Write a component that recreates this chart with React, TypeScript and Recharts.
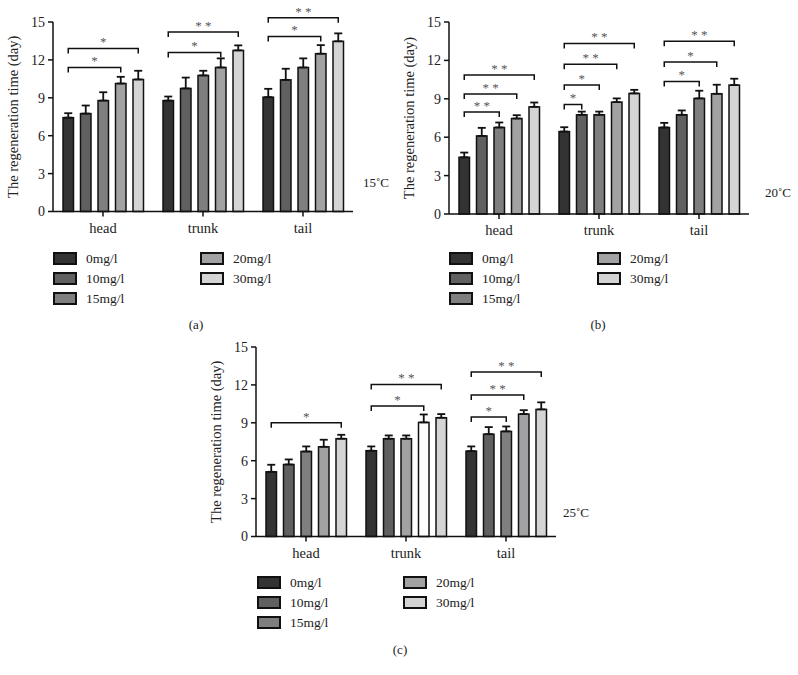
import React from "react";
import { BarChart, Bar, XAxis, YAxis, ErrorBar, Cell } from "recharts";

const categories = ["head", "trunk", "tail"];
const doses = ["0mg/l", "10mg/l", "15mg/l", "20mg/l", "30mg/l"];
const doseColors = ["#333333", "#606060", "#7f7f7f", "#a2a2a4", "#d4d4d4"];
const yTicks = [0, 3, 6, 9, 12, 15];

// mean regeneration time, rows = head / trunk / tail, columns = dose
const means15 = [
  [7.43, 7.75, 8.78, 10.13, 10.45],
  [8.78, 9.74, 10.77, 11.4, 12.75],
  [9.05, 10.42, 11.4, 12.49, 13.47],
];
const err15 = [
  [0.35, 0.64, 0.66, 0.53, 0.69],
  [0.32, 0.86, 0.37, 0.72, 0.4],
  [0.66, 0.88, 0.72, 0.68, 0.63],
];
const means20 = [
  [4.43, 6.1, 6.76, 7.46, 8.37],
  [6.44, 7.75, 7.75, 8.74, 9.42],
  [6.76, 7.75, 9.03, 9.39, 10.07],
];
const err20 = [
  [0.37, 0.63, 0.39, 0.26, 0.34],
  [0.34, 0.25, 0.25, 0.29, 0.28],
  [0.36, 0.34, 0.6, 0.71, 0.5],
];
const means25 = [
  [5.12, 5.7, 6.73, 7.1, 7.74],
  [6.79, 7.74, 7.74, 9.03, 9.4],
  [6.76, 8.1, 8.32, 9.69, 10.06],
];
const err25 = [
  [0.56, 0.4, 0.4, 0.56, 0.31],
  [0.34, 0.26, 0.26, 0.63, 0.29],
  [0.37, 0.56, 0.39, 0.31, 0.56],
];

// [category, dose compared with 0mg/l, bracket height (day), mark]
type Bracket = [number, number, number, string];
const brackets15: Bracket[] = [
  [0, 3, 11.4, "*"], [0, 4, 12.91, "*"],
  [1, 3, 12.59, "*"], [1, 4, 14.2, "* *"],
  [2, 3, 13.86, "*"], [2, 4, 15.34, "* *"],
];
const brackets20: Bracket[] = [
  [0, 2, 7.96, "* *"], [0, 3, 9.37, "* *"], [0, 4, 10.85, "* *"],
  [1, 1, 8.56, "*"], [1, 2, 10.07, "*"], [1, 3, 11.69, "* *"], [1, 4, 13.33, "* *"],
  [2, 2, 10.36, "*"], [2, 3, 11.87, "*"], [2, 4, 13.49, "* *"],
];
const brackets25: Bracket[] = [
  [0, 4, 9.0, "*"],
  [1, 3, 10.32, "*"], [1, 4, 12.04, "* *"],
  [2, 2, 9.45, "*"], [2, 3, 11.2, "* *"], [2, 4, 13.02, "* *"],
];

// in (c) the trunk bars are shaded differently
const colors25 = [
  doseColors,
  ["#333333", "#606060", "#a2a2a4", "#ffffff", "#d4d4d4"],
  doseColors,
];

const FONT = '"Liberation Serif", "DejaVu Serif", serif';
const BAR_SIZE = 10.5;
const BAR_GAP = 7;
const INK = "#111";

const buildRows = (means: number[][], errs: number[][]) =>
  categories.map((name, i) => {
    const row: any = { name };
    doses.forEach((_, j) => {
      row[`d${j}`] = means[i][j];
      row[`e${j}`] = [0, errs[i][j]];
    });
    return row;
  });

const makeShape = (k: number, marks: Bracket[]) => (props: any) => {
  const { x, y, width, height, fill, payload } = props;
  const cat = categories.indexOf(payload.name);
  const value = payload[`d${k}`];
  const base = y + height;
  const unit = height / value;
  const cx = x + width / 2;
  const x0 = cx - k * (BAR_SIZE + BAR_GAP);
  return (
    <g>
      <rect x={x} y={y} width={width} height={height} fill={fill} stroke={INK} strokeWidth={1.5} />
      {marks
        .filter((m) => m[0] === cat && m[1] === k)
        .map((m, i) => {
          const ly = base - m[2] * unit;
          return (
            <g key={i}>
              <path
                d={`M${x0},${ly + 5}V${ly}H${cx}V${ly + 5}`}
                fill="none"
                stroke={INK}
                strokeWidth={1.5}
              />
              <text
                x={(x0 + cx) / 2}
                y={ly - 2}
                textAnchor="middle"
                fontSize={13}
                fontFamily={FONT}
                fill="#555"
              >
                {m[3]}
              </text>
            </g>
          );
        })}
    </g>
  );
};

interface PanelProps {
  left: number;
  top: number;
  height: number;
  means: number[][];
  errs: number[][];
  marks: Bracket[];
  colors?: string[][];
}

const Panel = ({ left, top, height, means, errs, marks, colors }: PanelProps) => {
  const rows = buildRows(means, errs);
  return (
    <div style={{ position: "absolute", left, top }}>
      <BarChart
        width={398}
        height={height}
        data={rows}
        margin={{ top: 22, right: 45, bottom: 0, left: 0 }}
        barSize={BAR_SIZE}
        barGap={BAR_GAP}
        style={{ fontFamily: FONT }}
      >
        <XAxis
          dataKey="name"
          height={30}
          tickSize={5}
          tickMargin={6}
          axisLine={{ stroke: INK, strokeWidth: 1.5 }}
          tickLine={{ stroke: INK, strokeWidth: 1.5 }}
          tick={{ fill: "#222", fontSize: 14.5, fontFamily: FONT }}
        />
        <YAxis
          domain={[0, 15]}
          ticks={yTicks}
          width={53}
          tickSize={5}
          tickMargin={3}
          axisLine={{ stroke: INK, strokeWidth: 1.5 }}
          tickLine={{ stroke: INK, strokeWidth: 1.5 }}
          tick={{ fill: "#222", fontSize: 14, fontFamily: FONT }}
          label={{
            value: "The regeneration time (day)",
            angle: -90,
            position: "insideLeft",
            offset: 13,
            style: { textAnchor: "middle", fontSize: 14.5, fontFamily: FONT, fill: "#222" },
          }}
        />
        {doses.map((d, k) => (
          <Bar
            key={d}
            dataKey={`d${k}`}
            name={d}
            fill={doseColors[k]}
            isAnimationActive={false}
            shape={makeShape(k, marks)}
          >
            {rows.map((_, i) => (
              <Cell key={i} fill={colors ? colors[i][k] : doseColors[k]} />
            ))}
            <ErrorBar dataKey={`e${k}`} width={4} stroke={INK} strokeWidth={1.8} />
          </Bar>
        ))}
      </BarChart>
    </div>
  );
};

const Legend = ({ left, col2, top }: { left: number; col2: number; top: number }) => (
  <>
    {doses.map((d, k) => {
      const x = k < 3 ? left : col2;
      const y = top + (k < 3 ? k : k - 3) * 20;
      return (
        <div
          key={d}
          style={{ position: "absolute", left: x, top: y, display: "flex", alignItems: "center", height: 13 }}
        >
          <span
            style={{
              width: 20,
              height: 9,
              background: doseColors[k],
              border: `2px solid ${INK}`,
              display: "inline-block",
            }}
          />
          <span style={{ marginLeft: 9, fontSize: 13.5, fontFamily: FONT, color: "#222", whiteSpace: "nowrap" }}>
            {d}
          </span>
        </div>
      );
    })}
  </>
);

const Caption = ({ text, cx, cy }: { text: string; cx: number; cy: number }) => (
  <div
    style={{
      position: "absolute",
      left: cx - 20,
      width: 40,
      top: cy - 8,
      textAlign: "center",
      fontSize: 13,
      fontFamily: FONT,
      color: "#222",
    }}
  >
    {text}
  </div>
);

const Temp = ({ text, left, top }: { text: string; left: number; top: number }) => (
  <div style={{ position: "absolute", left, top, fontSize: 13, fontFamily: FONT, color: "#222" }}>{text}</div>
);

export default function App() {
  return (
    <div style={{ position: "absolute", left: 0, top: 0, width: 798, height: 675, background: "#fff" }}>
      <Panel left={0} top={0} height={241.5} means={means15} errs={err15} marks={brackets15} />
      <Panel left={396} top={0} height={244} means={means20} errs={err20} marks={brackets20} />
      <Panel left={203} top={325} height={241.5} means={means25} errs={err25} marks={brackets25} colors={colors25} />

      <Temp text="15˚C" left={363} top={175} />
      <Temp text="20˚C" left={765} top={185} />
      <Temp text="25˚C" left={563} top={505} />

      <Legend left={53} col2={200} top={252} />
      <Legend left={449} col2={597} top={252} />
      <Legend left={257} col2={403} top={576} />

      <Caption text="(a)" cx={196} cy={325} />
      <Caption text="(b)" cx={598} cy={325} />
      <Caption text="(c)" cx={400} cy={650} />
    </div>
  );
}
